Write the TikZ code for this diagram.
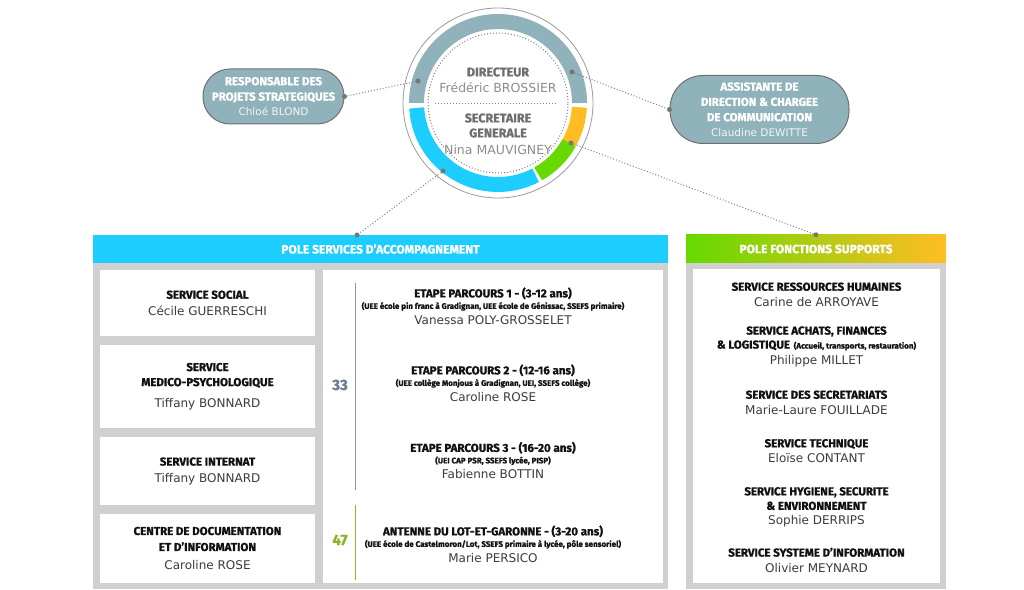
\documentclass[tikz,border=0pt]{standalone}
\usepackage{fontspec}
\setmainfont{DejaVu Sans}
\newfontfamily\headfont{Fira Sans}[BoldFeatures={FakeBold=1.2}]
\usetikzlibrary{positioning}

\definecolor{pillgray}{HTML}{8FB2BB}
\definecolor{pillborder}{HTML}{707070}
\definecolor{poleblue}{HTML}{1DCDFE}
\definecolor{polegreen}{HTML}{66D900}
\definecolor{poleorange}{HTML}{FFBD24}
\definecolor{panelgray}{HTML}{D0D0D0}
\definecolor{namegray}{HTML}{3C3C3C}
\definecolor{headblack}{HTML}{111111}
\definecolor{linegray}{HTML}{808080}
\definecolor{dotgray}{HTML}{777777}
\definecolor{circlehead}{HTML}{6E6E6E}
\definecolor{circlename}{HTML}{8C8C8C}
\definecolor{numslate}{HTML}{6C7C96}
\definecolor{numolive}{HTML}{8DB32B}

\newcommand{\hd}[1]{{\headfont\bfseries\color{headblack}\fontsize{11.5}{16}\selectfont #1}}
\newcommand{\sm}[1]{{\headfont\bfseries\color{headblack}\fontsize{8}{9}\selectfont #1}}
\newcommand{\ch}[1]{{\headfont\bfseries\color{circlehead}\fontsize{12.5}{16}\selectfont #1}}
\newcommand{\ph}[1]{{\headfont\bfseries\fontsize{11.5}{15}\selectfont #1}}

\begin{document}
\begin{tikzpicture}[x=1pt,y=1pt,
  pill/.style={rectangle, draw=pillborder, line width=1pt, fill=pillgray, text=white, align=center, inner sep=0pt, font=\fontsize{10.5}{15.3}\selectfont},
  pole/.style={rectangle, minimum height=28pt, inner sep=0pt, text=white, font=\headfont\bfseries\fontsize{12}{14}\selectfont},
  unit/.style={rectangle, fill=white, minimum width=215pt, inner sep=0pt, align=center, text=namegray, font=\fontsize{12}{16.5}\selectfont},
  block/.style={align=center, text=namegray, font=\fontsize{12}{15.5}\selectfont},
  link/.style={dotted, line width=1pt, linegray},
  pin/.style={circle, fill=dotgray, inner sep=0pt, minimum size=5pt}]
\useasboundingbox (0,0) rectangle (1024,589);

%Panels
\fill[panelgray] (93,0) rectangle (668,326);
\fill[panelgray] (686,0) rectangle (946,326);
\node[pole, fill=poleblue, minimum width=575pt] (accomp) at (380.5,340) {POLE SERVICES D’ACCOMPAGNEMENT};
\node[pole, left color=polegreen, right color=poleorange, minimum width=260pt] (supports) at (816,340) {POLE FONCTIONS SUPPORTS};

%Left column
\node[unit, minimum height=66pt] (social) at (207.5,286) {\hd{SERVICE SOCIAL}\\Cécile GUERRESCHI};
\node[unit, minimum height=83pt] (medico) at (207.5,202.5) {\hd{SERVICE}\\[-1.5pt]\hd{MEDICO-PSYCHOLOGIQUE}\\[5pt]Tiffany BONNARD};
\node[unit, minimum height=68pt] (internat) at (207.5,118) {\hd{SERVICE INTERNAT}\\Tiffany BONNARD};
\node[unit, minimum height=69pt] (cdi) at (207.5,40.5) {\hd{CENTRE DE DOCUMENTATION}\\[-0.5pt]\hd{ET D’INFORMATION}\\[2.5pt]Caroline ROSE};

%Parcours
\node[rectangle, fill=white, minimum width=340pt, minimum height=313pt, inner sep=0pt] (parcours) at (493,162.5) {};
\node[block] (etape1) at (493,283) {\hd{ETAPE PARCOURS 1 - (3-12 ans)}\\[-4pt]\sm{(UEE école pin franc à Gradignan, UEE école de Génissac, SSEFS primaire)}\\Vanessa POLY-GROSSELET};
\node[block] (etape2) at (493,206) {\hd{ETAPE PARCOURS 2 - (12-16 ans)}\\[-4pt]\sm{(UEE collège Monjous à Gradignan, UEI, SSEFS collège)}\\Caroline ROSE};
\node[block] (etape3) at (493,128.5) {\hd{ETAPE PARCOURS 3 - (16-20 ans)}\\[-4pt]\sm{(UEI CAP PSR, SSEFS lycée, PISP)}\\Fabienne BOTTIN};
\node[block] (antenne) at (493,45) {\hd{ANTENNE DU LOT-ET-GARONNE - (3-20 ans)}\\[-4pt]\sm{(UEE école de Castelmoron/Lot, SSEFS primaire à lycée, pôle sensoriel)}\\Marie PERSICO};
\node[text=numslate, font=\headfont\bfseries\fontsize{15}{17}\selectfont] (n33) at (340,204) {33};
\node[text=numolive, font=\headfont\bfseries\fontsize{15}{17}\selectfont] (n47) at (340,49) {47};
\draw[numslate!80, line width=0.8pt] (355,306) -- (355,99);
\draw[numolive, line width=0.8pt] (355,84) -- (355,9);

%Supports
\node[rectangle, fill=white, minimum width=247pt, minimum height=314pt, inner sep=0pt] (fonctions) at (816.5,163) {};
\node[block] (rh) at (816.5,294.5) {\hd{SERVICE RESSOURCES HUMAINES}\\Carine de ARROYAVE};
\node[block] (achats) at (816.5,242.5) {\hd{SERVICE ACHATS, FINANCES}\\[-1.5pt]\hd{\& LOGISTIQUE} \sm{(Accueil, transports, restauration)}\\Philippe MILLET};
\node[block] (secretariats) at (816.5,186.5) {\hd{SERVICE DES SECRETARIATS}\\Marie-Laure FOUILLADE};
\node[block] (technique) at (816.5,138) {\hd{SERVICE TECHNIQUE}\\Eloïse CONTANT};
\node[block] (hygiene) at (816.5,82) {\hd{SERVICE HYGIENE, SECURITE}\\[-1pt]\hd{\& ENVIRONNEMENT}\\[-1pt]Sophie DERRIPS};
\node[block] (si) at (816.5,29) {\hd{SERVICE SYSTEME D’INFORMATION}\\Olivier MEYNARD};

%Direction
\coordinate (C) at (498,486);
\draw[linegray!80, line width=0.8pt] (C) circle (95);
\draw[pillgray, line width=15pt] ([shift={(0:81.5)}]C) arc (0:180:81.5);
\draw[poleblue, line width=15pt] ([shift={(183.5:81.5)}]C) arc (183.5:297.5:81.5);
\draw[polegreen, line width=15pt] ([shift={(299.5:81.5)}]C) arc (299.5:331:81.5);
\draw[poleorange, line width=15pt] ([shift={(331:81.5)}]C) arc (331:357:81.5);
\draw[linegray, dotted, line width=1pt] (C) circle (70);
\draw[linegray, dotted, line width=1pt] (435,485) -- (557,485);
\node[align=center, text=circlename, font=\fontsize{12.5}{16}\selectfont] (directeur) at (498,509) {\ch{DIRECTEUR}\\Frédéric BROSSIER};
\node[align=center, text=circlename, font=\fontsize{12.5}{16}\selectfont] (secretaire) at (498,455) {\ch{SECRETAIRE}\\[-1pt]\ch{GENERALE}\\[1pt]Nina MAUVIGNEY};

\node[pill, minimum width=141pt, minimum height=55pt, rounded corners=27pt] (projets) at (273.5,492.5) {\ph{RESPONSABLE DES}\\\ph{PROJETS STRATEGIQUES}\\{\color{white!88!pillgray}Chloé BLOND}};
\node[pill, minimum width=179pt, minimum height=68pt, rounded corners=33pt] (assistante) at (759.5,479.5) {\ph{ASSISTANTE DE}\\\ph{DIRECTION \& CHARGEE}\\\ph{DE COMMUNICATION}\\{\color{white!88!pillgray}Claudine DEWITTE}};

%Lines
\coordinate (ringL) at (418,508);
\coordinate (ringR) at (572,517);
\coordinate (ringG) at (571,446);
\coordinate (ringB) at (443,418);
\coordinate (accompTop) at (357,354);
\draw[link] (projets.east) -- (ringL);
\draw[link] (ringR) -- (assistante.west);
\draw[link] (ringG) -- (supports.north);
\draw[link] (ringB) -- (accompTop);
\foreach \p in {projets.east, ringL, ringR, assistante.west, ringG, supports.north, ringB, accompTop}
  \node[pin] at (\p) {};

\end{tikzpicture}
\end{document}
